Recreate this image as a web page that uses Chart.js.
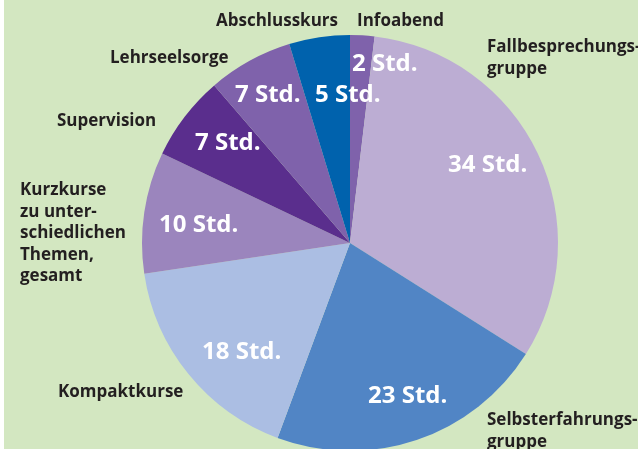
<!DOCTYPE html>
<html>
<head>
<meta charset="utf-8">
<script src="https://cdn.jsdelivr.net/npm/chart.js@4.4.0/dist/chart.umd.min.js"></script>
<style>
  html, body { margin: 0; padding: 0; background: #ffffff; }
  #wrap { width: 638px; height: 449px; overflow: hidden; }
</style>
</head>
<body>
<div id="wrap"><canvas id="hoursChart" width="638" height="460"></canvas></div>
<script>
// Stunden je Kursart, im Uhrzeigersinn ab 12 Uhr
const categories = [
  "Infoabend",
  "Fallbesprechungsgruppe",
  "Selbsterfahrungsgruppe",
  "Kompaktkurse",
  "Kurzkurse zu unterschiedlichen Themen, gesamt",
  "Supervision",
  "Lehrseelsorge",
  "Abschlusskurs"
];
const hours = [2, 34, 23, 18, 10, 7, 7, 5];
const unit = "Std.";

// category names as printed (line breaks as in the original)
const categoryLines = [
  ["Infoabend"],
  ["Fallbesprechungs-", "gruppe"],
  ["Selbsterfahrungs-", "gruppe"],
  ["Kompaktkurse"],
  ["Kurzkurse", "zu unter-", "schiedlichen", "Themen,", "gesamt"],
  ["Supervision"],
  ["Lehrseelsorge"],
  ["Abschlusskurs"]
];

const sliceColors = [
  "#7f62ab", "#bcadd3", "#5185c5", "#abbee3",
  "#9b85bd", "#5a2e8d", "#7f62ab", "#0062ad"
];

// text placement (left x, first baseline y, alignment)
const nameLayout = [
  { x: 357, y: 26, align: "left" },
  { x: 487, y: 52, align: "left" },
  { x: 487, y: 425, align: "left" },
  { x: 58,  y: 397, align: "left" },
  { x: 20,  y: 195, align: "left" },
  { x: 57,  y: 126, align: "left" },
  { x: 110, y: 63, align: "left" },
  { x: 338, y: 26, align: "right" }
];
const valueLayout = [
  { x: 352, y: 71 },
  { x: 448, y: 172 },
  { x: 368, y: 403 },
  { x: 202, y: 359 },
  { x: 159, y: 232 },
  { x: 195, y: 150 },
  { x: 235, y: 102 },
  { x: 315, y: 102 }
];

const background = {
  id: "background",
  beforeDraw(chart) {
    const ctx = chart.ctx;
    ctx.save();
    ctx.fillStyle = "#d3e7c1";
    ctx.fillRect(4, 0, chart.width - 4, chart.height);
    ctx.restore();
  }
};

const pieText = {
  id: "pieText",
  afterDatasetsDraw(chart) {
    const ctx = chart.ctx;
    ctx.save();
    ctx.textBaseline = "alphabetic";

    ctx.fillStyle = "#ffffff";
    ctx.font = "bold 24px 'Open Sans'";
    ctx.textAlign = "left";
    hours.forEach((h, i) => {
      const p = valueLayout[i];
      ctx.fillText(h + " " + unit, p.x, p.y);
    });

    ctx.fillStyle = "#231f20";
    ctx.font = "bold 17px 'Open Sans'";
    categoryLines.forEach((lines, i) => {
      const p = nameLayout[i];
      ctx.textAlign = p.align;
      lines.forEach((line, j) => {
        ctx.fillText(line, p.x, p.y + j * 21.5);
      });
    });
    ctx.restore();
  }
};

new Chart(document.getElementById("hoursChart"), {
  type: "pie",
  data: {
    labels: categories,
    datasets: [{
      data: hours,
      backgroundColor: sliceColors,
      borderWidth: 0
    }]
  },
  options: {
    responsive: false,
    animation: false,
    layout: { padding: { left: 142, right: 80, top: 35, bottom: 9 } },
    plugins: {
      legend: { display: false },
      tooltip: { enabled: false }
    }
  },
  plugins: [background, pieText]
});
</script>
</body>
</html>
